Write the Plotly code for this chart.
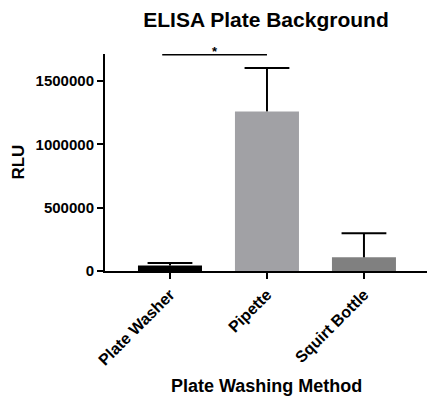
import plotly.graph_objects as go

categories = ["Plate Washer", "Pipette", "Squirt Bottle"]
means = [43000, 1260000, 108000]
errors = [21000, 342000, 190000]
bar_colors = ["#000000", "#a1a1a5", "#808080"]
y_ticks = [0, 500000, 1000000, 1500000]
y_max = 1713000

FONT = "Liberation Sans, Arial, sans-serif"

xs = list(range(len(categories)))
tops = [m + e for m, e in zip(means, errors)]

fig = go.Figure()
fig.add_trace(go.Bar(
    x=xs, y=means, width=0.66,
    marker=dict(color=bar_colors, line=dict(width=0)),
    showlegend=False, hoverinfo="skip",
))

# upward-only error bars: stems + caps
stem_x, stem_y = [], []
for x, m, t in zip(xs, means, tops):
    stem_x += [x, x, None]
    stem_y += [m, t, None]
fig.add_trace(go.Scatter(x=stem_x, y=stem_y, mode="lines",
                         line=dict(color="#000000", width=2),
                         showlegend=False, hoverinfo="skip"))
fig.add_trace(go.Scatter(x=xs, y=tops, mode="markers",
                         marker=dict(symbol="line-ew", size=32,
                                     line=dict(color="#000000", width=2)),
                         showlegend=False, hoverinfo="skip"))

# significance bracket between Plate Washer and Pipette
i0 = categories.index("Plate Washer")
i1 = categories.index("Pipette")
bracket_y = max(tops) * 1.065
fig.add_shape(type="line", xref="x", yref="y",
              x0=i0 - 0.08, x1=i1, y0=bracket_y, y1=bracket_y,
              line=dict(color="#000000", width=1.5))
fig.add_annotation(x=(i0 - 0.08 + i1) / 2, y=bracket_y, xref="x", yref="y",
                   text="*", showarrow=False, yanchor="bottom", yshift=-6,
                   font=dict(family=FONT, size=13, color="#000000", weight="bold"))

fig.add_annotation(x=-0.27, y=0.5, xref="paper", yref="paper", text="RLU",
                   textangle=-90, showarrow=False, xanchor="center", yanchor="middle",
                   font=dict(family=FONT, size=17, color="#000000", weight="bold"))
fig.add_annotation(x=0.5, y=-0.531, xref="paper", yref="paper",
                   text="Plate Washing Method", showarrow=False,
                   xanchor="center", yanchor="middle",
                   font=dict(family=FONT, size=18, color="#000000", weight="bold"))

fig.update_layout(
    width=427, height=397,
    margin=dict(l=105, r=0, t=54, b=125.5, autoexpand=False),
    paper_bgcolor="white", plot_bgcolor="white",
    title=dict(text="ELISA Plate Background", x=0.5, xref="paper",
               y=1 - 20 / 397, yref="container", yanchor="middle", xanchor="center",
               font=dict(family=FONT, size=21, color="#000000", weight="bold")),
    xaxis=dict(range=[-0.67, 2.65], tickmode="array",
               tickvals=xs, ticktext=categories, automargin=False,
               tickangle=-45, ticks="outside", ticklen=6, tickwidth=2,
               tickcolor="#000000", showline=True, linecolor="#000000",
               linewidth=2, showgrid=False, zeroline=False,
               tickfont=dict(family=FONT, size=16, color="#000000", weight="bold")),
    yaxis=dict(range=[0, y_max], tickmode="array", tickvals=y_ticks,
               ticktext=[str(v) for v in y_ticks], automargin=False,
               ticks="outside", ticklen=6, tickwidth=2, tickcolor="#000000",
               showline=True, linecolor="#000000", linewidth=2,
               showgrid=False, zeroline=False,
               tickfont=dict(family=FONT, size=15, color="#000000", weight="bold")),
)

fig.write_html("out.html", config={"displayModeBar": False},
               post_script="document.body.style.margin='0';document.body.style.overflow='hidden';")
